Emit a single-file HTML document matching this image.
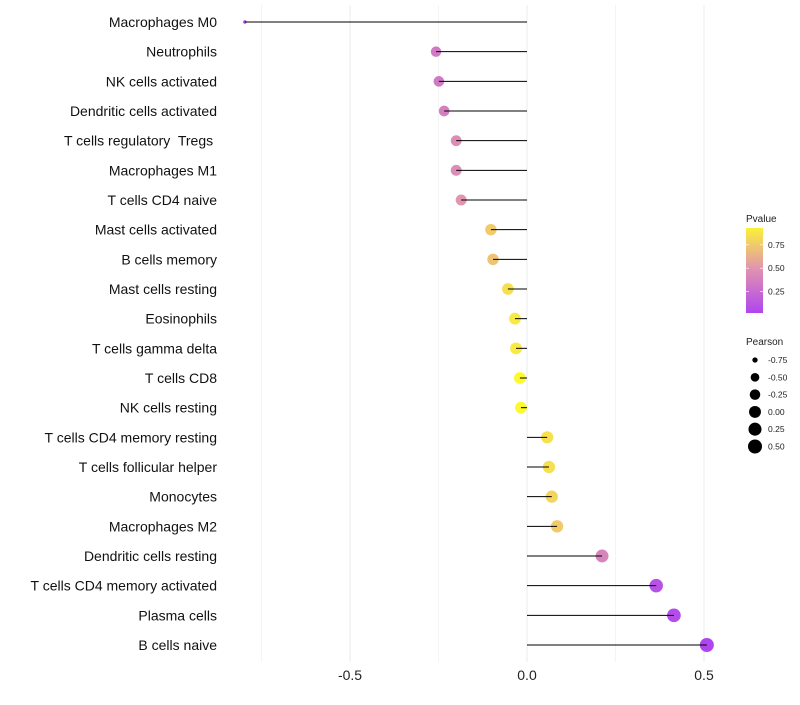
<!DOCTYPE html>
<html><head><meta charset="utf-8"><style>
body{margin:0;background:#fff;font-family:"Liberation Sans",sans-serif}
</style></head><body>
<svg id="chart" width="800" height="700" xmlns="http://www.w3.org/2000/svg" font-family="Liberation Sans, sans-serif"></svg>
<script>
const categories=["Macrophages M0","Neutrophils","NK cells activated","Dendritic cells activated","T cells regulatory  Tregs ","Macrophages M1","T cells CD4 naive","Mast cells activated","B cells memory","Mast cells resting","Eosinophils","T cells gamma delta","T cells CD8","NK cells resting","T cells CD4 memory resting","T cells follicular helper","Monocytes","Macrophages M2","Dendritic cells resting","T cells CD4 memory activated","Plasma cells","B cells naive"];
const pearson=[-0.797,-0.257,-0.249,-0.234,-0.2,-0.2,-0.186,-0.102,-0.096,-0.054,-0.034,-0.031,-0.02,-0.017,0.057,0.062,0.07,0.085,0.212,0.365,0.415,0.508];
const pvalue=[0.0,0.33,0.33,0.37,0.45,0.45,0.5,0.75,0.72,0.85,0.9,0.9,0.97,0.97,0.85,0.85,0.8,0.75,0.4,0.1,0.06,0.02];
const xTicks=[-0.5,0,0.5];
const xTickLabels=["-0.5","0.0","0.5"];
const minorTicks=[-0.75,-0.25,0.25];
const pvalTicks=[0.25,0.5,0.75];
const sizeTicks=[-0.75,-0.5,-0.25,0,0.25,0.5];
const sizeTickLabels=["-0.75","-0.50","-0.25","0.00","0.25","0.50"];

const svg=document.getElementById('chart');
const NS="http://www.w3.org/2000/svg";
function mk(t,a,p){const e=document.createElementNS(NS,t);for(const k in a)e.setAttribute(k,a[k]);(p||svg).appendChild(e);return e;}
const xS=v=>527+v*354;
const yS=i=>22+i*(623/21);
const rS=v=>{const t=Math.max(0,(v+0.8)/1.3);return Math.sqrt(2.25+46.75*Math.pow(t,0.7));};
function col(p){const s=[[160,32,240],[220,130,160],[255,255,0]];let a,b,t;if(p<0.5){a=s[0];b=s[1];t=p/0.5}else{a=s[1];b=s[2];t=(p-0.5)/0.5}return `rgb(${a.map((c,i)=>Math.round(c+(b[i]-c)*t)).join(',')})`;}

minorTicks.forEach(v=>{const l=mk('line',{x1:xS(v),x2:xS(v),y1:5,y2:662,stroke:'#f4f4f4','stroke-width':1});

});
xTicks.forEach((v,i)=>{const l=mk('line',{x1:xS(v),x2:xS(v),y1:5,y2:662,stroke:'#ebebeb','stroke-width':1});


const t=mk('text',{x:xS(v),y:680,'text-anchor':'middle','font-size':14,fill:'#222'});t.textContent=xTickLabels[i];

});

categories.forEach((c,i)=>{const y=yS(i);
const t=mk('text',{x:217,y:y+5,'text-anchor':'end','font-size':14,fill:'#111',style:'white-space:pre'});t.textContent=c;


const d=mk('circle',{cx:xS(pearson[i]),cy:y,r:rS(pearson[i]),fill:col(pvalue[i]),'fill-opacity':0.85});

});
categories.forEach((c,i)=>{const y=yS(i);
const l=mk('line',{x1:xS(0),x2:xS(pearson[i]),y1:y,y2:y,stroke:'#000','stroke-width':1});

});

let t=mk('text',{x:746,y:222,'font-size':10,fill:'#222'});t.textContent='Pvalue';


const defs=mk('defs',{});const g=mk('linearGradient',{id:'pg'},defs);
[0,0.25,0.5,0.75,1].forEach(o=>mk('stop',{offset:o,'stop-color':col(o)},g));
const cbTop=228,cbBot=313,pv=p=>313-(p-0.02)/(0.93-0.02)*85;
g.setAttribute('gradientUnits','userSpaceOnUse');g.setAttribute('x1',0);g.setAttribute('x2',0);g.setAttribute('y1',pv(0));g.setAttribute('y2',pv(1));
let r=mk('rect',{x:746,y:cbTop,width:17,height:cbBot-cbTop,fill:'url(#pg)','fill-opacity':0.85});


pvalTicks.forEach(p=>{const tt=mk('text',{x:768,y:pv(p)+3,'font-size':8.5,fill:'#222'});tt.textContent=p.toFixed(2);


mk('line',{x1:746,x2:749,y1:pv(p),y2:pv(p),stroke:'#fff','stroke-width':0.6});mk('line',{x1:760,x2:763,y1:pv(p),y2:pv(p),stroke:'#fff','stroke-width':0.6});});
t=mk('text',{x:746,y:345,'font-size':10,fill:'#222'});t.textContent='Pearson';


sizeTicks.forEach((v,i)=>{const y=360+i*17.3;
const c=mk('circle',{cx:755,cy:y,r:rS(v),fill:'#000'});


const tt=mk('text',{x:768,y:y+3,'font-size':8.5,fill:'#222'});tt.textContent=sizeTickLabels[i];

});
</script>
</body></html>
